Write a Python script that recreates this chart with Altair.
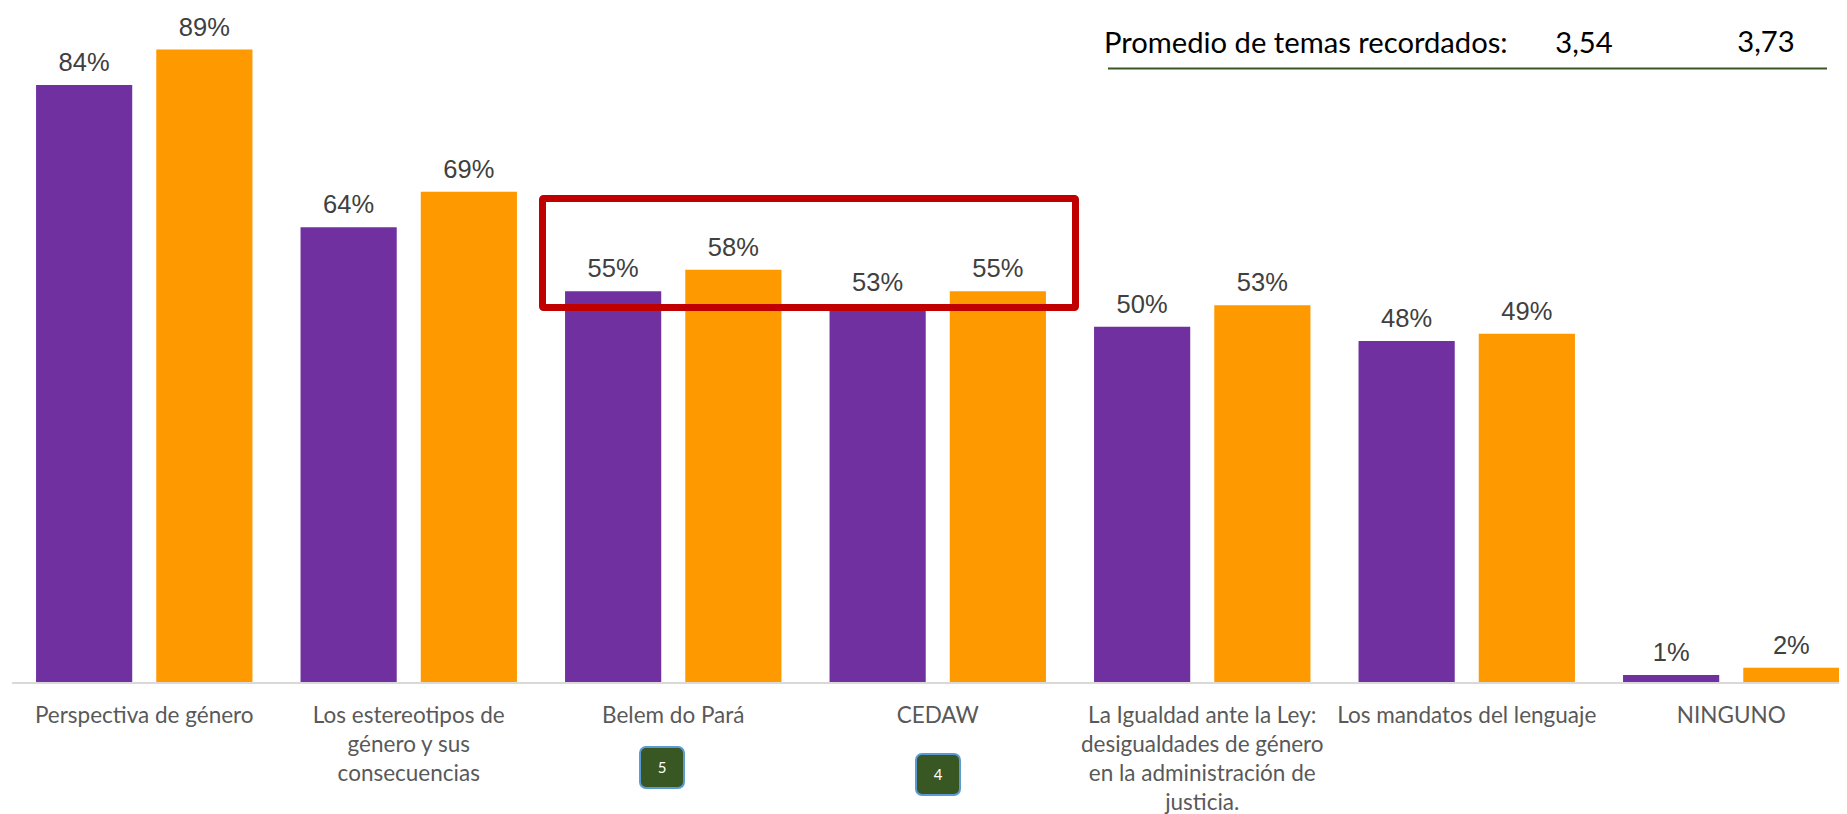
import altair as alt
import pandas as pd

categories = ["Perspectiva de género", "Los estereotipos de|género y sus|consecuencias", "Belem do Pará", "CEDAW",
              "La Igualdad ante la Ley:|desigualdades de género|en la administración de|justicia.",
              "Los mandatos del lenguaje", "NINGUNO"]
serie_a = [84, 64, 55, 53, 50, 48, 1]
serie_b = [89, 69, 58, 55, 53, 49, 2]
promedios = ["3,54", "3,73"]
badges = [("5", 639, 746), ("4", 915, 753)]

rows = []
for c, a, b in zip(categories, serie_a, serie_b):
    rows.append({"cat": c, "serie": "A", "v": a, "label": f"{a}%"})
    rows.append({"cat": c, "serie": "B", "v": b, "label": f"{b}%"})
df = pd.DataFrame(rows)

OX, OY = 12, 14  # page position of the plot origin

x = alt.X("cat:N", sort=categories, title=None,
          scale=alt.Scale(domain=categories, range=[0, 1851.5], paddingInner=0, paddingOuter=0, round=False),
          axis=alt.Axis(labelAngle=0, ticks=False, domain=False, grid=False, labelFont="Lato", labelFontSize=22.5,
                        labelColor="#595959", labelLimit=500, labelPadding=33, labelLineHeight=29,
                        labelBaseline="middle",
                        labelExpr="split(datum.label, '|')"))
xo = alt.XOffset("serie:N", scale=alt.Scale(paddingInner=0.2, paddingOuter=0.2, round=False))
y = alt.Y("v:Q", title=None, scale=alt.Scale(domain=[0, 94]), axis=None)
color = alt.Color("serie:N", legend=None, scale=alt.Scale(domain=["A", "B"], range=["#7030A0", "#FF9900"]))

base = alt.Chart(df)
bars = base.mark_bar().encode(x=x, xOffset=xo, y=y, color=color)
labels = base.mark_text(font="Liberation Sans", fontSize=25.5, color="#404040", baseline="bottom", dy=-9).encode(
    x=x, xOffset=xo, y=y, text="label:N")

one = alt.Chart(pd.DataFrame({"k": [0]}))


def px(v):
    return alt.value(v - OX)


def py(v):
    return alt.value(v - OY)


baseline = one.mark_rule(color="#D9D9D9", strokeWidth=2).encode(x=px(12), x2=px(1847), y=py(683))
box = one.mark_rect(fill="transparent", stroke="#C00000", strokeWidth=7, cornerRadius=1).encode(
    x=px(542.5), x2=px(1075.5), y=py(198.5), y2=py(307.5))
head = one.mark_text(text="Promedio de temas recordados:", font="Lato", fontSize=29.2, color="#000000",
                     align="left", baseline="middle").encode(x=px(1104), y=py(44))
p1 = one.mark_text(text=promedios[0], font="Lato", fontSize=29.2, color="#000000", baseline="middle").encode(
    x=px(1584), y=py(44))
p2 = one.mark_text(text=promedios[1], font="Lato", fontSize=29.2, color="#000000", baseline="middle").encode(
    x=px(1766), y=py(43))
line = one.mark_rule(color="#385723", strokeWidth=2).encode(x=px(1108), x2=px(1827), y=py(68.5))

layers = [bars, labels, baseline, box, head, p1, p2, line]
for t, bx, by in badges:
    layers.append(one.mark_rect(fill="#385723", stroke="#5B9BD5", strokeWidth=2, cornerRadius=6).encode(
        x=px(bx + 1), x2=px(bx + 45), y=py(by + 1), y2=py(by + 42)))
    layers.append(one.mark_text(text=t, font="Lato", fontSize=15, color="#FFFFFF", baseline="middle").encode(
        x=px(bx + 23), y=py(by + 21.5)))

chart = alt.layer(*layers).properties(
    width=1827, height=668,
    background="#FFFFFF",
    padding={"left": 4, "top": 6, "right": 0, "bottom": 132},
    autosize=alt.AutoSizeParams(type="none"),
).configure_view(stroke=None)

chart.save("out.html", embed_options={"renderer": "svg", "actions": False})
